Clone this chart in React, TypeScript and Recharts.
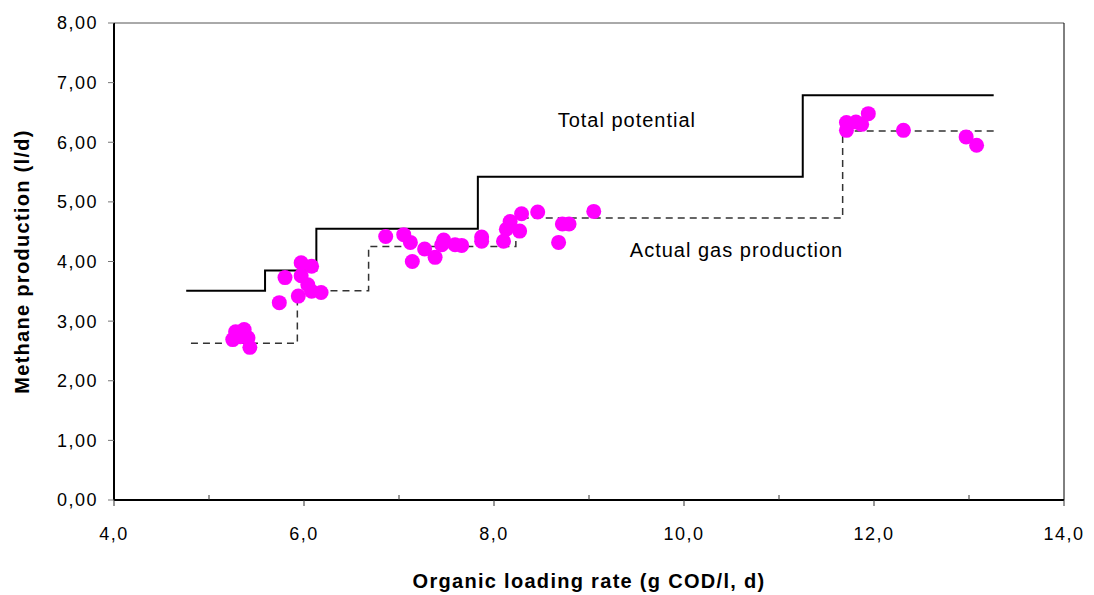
import React from "react";
import {
  ComposedChart,
  Scatter,
  Line,
  XAxis,
  YAxis,
  ReferenceLine,
  ReferenceDot,
  Label,
} from "recharts";

// measured points: organic loading rate (g COD/l, d) vs methane production (l/d)
const olr = [
  5.28, 5.37, 5.25, 5.41, 5.43, 5.33,
  5.8, 5.74, 5.97, 6.08, 5.97, 6.04, 6.18, 5.94, 6.08,
  6.86, 7.05, 7.12, 7.14, 7.27, 7.38, 7.45, 7.47, 7.59, 7.66, 7.87, 7.87,
  8.1, 8.13, 8.17, 8.27, 8.29, 8.46, 8.68, 8.72, 8.79, 9.05,
  11.71, 11.71, 11.81, 11.87, 11.94, 12.31, 12.97, 13.08,
];
const methane = [
  2.82, 2.86, 2.69, 2.72, 2.56, 2.74,
  3.73, 3.31, 3.98, 3.92, 3.76, 3.61, 3.48, 3.42, 3.5,
  4.42, 4.45, 4.32, 4.0, 4.21, 4.07, 4.28, 4.36, 4.28, 4.27, 4.41, 4.34,
  4.34, 4.54, 4.67, 4.51, 4.8, 4.83, 4.32, 4.63, 4.63, 4.84,
  6.33, 6.2, 6.34, 6.3, 6.48, 6.2, 6.09, 5.95,
];

// step lines
const potentialX = [4.76, 5.59, 6.13, 7.83, 11.25, 13.26];
const potentialY = [3.51, 3.85, 4.55, 5.42, 6.79, 6.79];
const actualX = [4.81, 5.93, 6.68, 8.23, 11.67, 13.31];
const actualY = [2.63, 3.51, 4.25, 4.73, 6.19, 6.19];

const xTicks = [4, 5, 6, 7, 8, 9, 10, 11, 12, 13, 14];
const yTicks = [0, 1, 2, 3, 4, 5, 6, 7, 8];

const FONT = '"Liberation Sans", Arial, sans-serif';

const points = olr.map((x, i) => ({ x, y: methane[i] }));
const potential = potentialX.map((x, i) => ({ x, y: potentialY[i] }));
const actual = actualX.map((x, i) => ({ x, y: actualY[i] }));

const XTick = (props: any) => {
  const { x, y, payload } = props;
  const v = payload.value as number;
  const major = v % 2 === 0;
  return (
    <g>
      <line x1={x} x2={x} y1={y} y2={major ? y + 6 : y - 5} stroke="#333" strokeWidth={1} />
      {major && (
        <text
          x={x}
          y={y + 40}
          textAnchor="middle"
          fontSize={18}
          letterSpacing={1.5}
          fontFamily={FONT}
          fill="#000"
        >
          {v.toFixed(1).replace(".", ",")}
        </text>
      )}
    </g>
  );
};

const annotation = (text: string) => (p: any) => (
  <text
    x={p.cx}
    y={p.cy}
    fontSize={20}
    letterSpacing={1}
    fontFamily={FONT}
    fill="#000"
  >
    {text}
  </text>
);

export default function App() {
  return (
    <div style={{ position: "absolute", left: 0, top: 0, background: "#fff" }}>
      <ComposedChart
        width={1094}
        height={595}
        margin={{ top: 23, right: 30, bottom: 35, left: 14 }}
      >
        <XAxis
          type="number"
          dataKey="x"
          domain={[4, 14]}
          ticks={xTicks}
          interval={0}
          tickSize={0}
          tickMargin={0}
          tickLine={false}
          tick={<XTick />}
          height={60}
          axisLine={{ stroke: "#000", strokeWidth: 2 }}
        >
          <Label
            content={(p: any) => (
              <text
                x={p.viewBox.x + p.viewBox.width / 2}
                y={p.viewBox.y + 88}
                textAnchor="middle"
                fontSize={20}
                fontWeight="bold"
                letterSpacing={1.3}
                fontFamily={FONT}
                fill="#000"
              >
                Organic loading rate (g COD/l, d)
              </text>
            )}
          />
        </XAxis>
        <YAxis
          type="number"
          dataKey="y"
          domain={[0, 8]}
          ticks={yTicks}
          interval={0}
          width={100}
          tickSize={6}
          tickMargin={10}
          tickLine={{ stroke: "#777" }}
          axisLine={{ stroke: "#000", strokeWidth: 2 }}
          tickFormatter={(v: number) => v.toFixed(2).replace(".", ",")}
          tick={{ fontSize: 18, fill: "#000", fontFamily: FONT, letterSpacing: 1.5 }}
        >
          <Label
            content={(p: any) => {
              const cx = 22;
              const cy = p.viewBox.y + p.viewBox.height / 2;
              return (
                <text
                  x={cx}
                  y={cy}
                  transform={`rotate(-90 ${cx} ${cy})`}
                  textAnchor="middle"
                  dominantBaseline="central"
                  fontSize={20}
                  fontWeight="bold"
                  letterSpacing={1.3}
                  fontFamily={FONT}
                  fill="#000"
                >
                  Methane production (l/d)
                </text>
              );
            }}
          />
        </YAxis>
        <ReferenceLine y={8} stroke="#555" strokeWidth={1} />
        <ReferenceLine x={14} stroke="#000" strokeWidth={1} />
        <Scatter
          data={points}
          fill="#ff00ff"
          isAnimationActive={false}
          shape={(p: any) => <circle cx={p.cx} cy={p.cy} r={7.5} fill="#ff00ff" />}
        />
        <Line
          data={potential}
          dataKey="y"
          type="stepAfter"
          stroke="#000"
          strokeWidth={2}
          dot={false}
          activeDot={false}
          isAnimationActive={false}
        />
        <Line
          data={actual}
          dataKey="y"
          type="stepAfter"
          stroke="#333"
          strokeWidth={1.5}
          strokeDasharray="7 5"
          dot={false}
          activeDot={false}
          isAnimationActive={false}
        />
        <ReferenceDot x={8.67} y={6.25} r={0} shape={annotation("Total potential")} />
        <ReferenceDot x={9.43} y={4.08} r={0} shape={annotation("Actual gas production")} />
      </ComposedChart>
    </div>
  );
}
